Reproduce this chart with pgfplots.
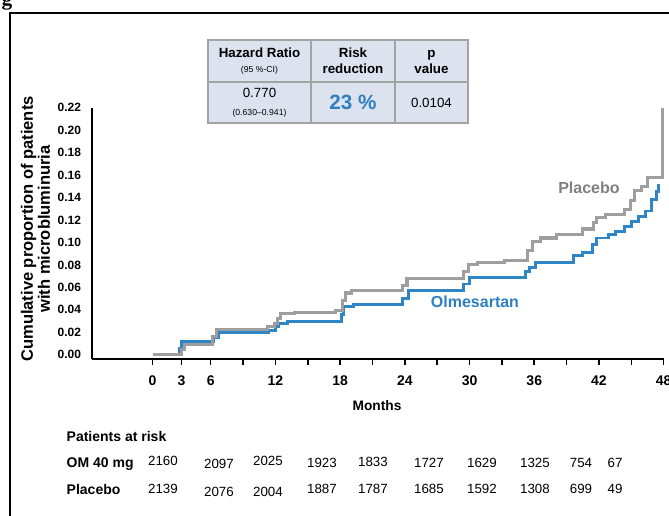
\documentclass[border=0pt]{standalone}
\usepackage{pgfplots}
\pgfplotsset{compat=1.18}
\usepackage{fontspec}
\setmainfont{Liberation Sans}
\newfontfamily\serifb{Liberation Serif}
\definecolor{pgray}{HTML}{9E9E9E}
\definecolor{oblue}{HTML}{2F86C6}
\definecolor{tfill}{HTML}{DCE2EE}
\definecolor{tborder}{HTML}{A3A3A3}
\definecolor{lgray}{HTML}{808080}
\definecolor{lblue}{HTML}{2E7FC0}

\pgfplotstableread{
x y
0.62 0
3.3 0.005
3.55 0.0095
6.15 0.016
6.5 0.0225
11.3 0.025
11.9 0.028
12.2 0.032
12.5 0.0365
13.8 0.0375
17.6 0.039
18.2 0.048
18.5 0.055
19.1 0.057
23.8 0.062
24.2 0.068
29.4 0.074
29.9 0.0805
30.7 0.082
33.2 0.084
35.4 0.093
35.8 0.101
36.6 0.104
38.1 0.107
40.5 0.112
41.5 0.118
41.8 0.122
42.6 0.125
44.4 0.1295
44.9 0.137
45.3 0.146
45.9 0.150
46.5 0.158
47.85 0.220
}\placebo

\pgfplotstableread{
x y
0.62 0
3.1 0.006
3.3 0.0118
6.3 0.015
6.7 0.0195
11.4 0.022
12.0 0.025
12.3 0.028
13.1 0.030
18.1 0.036
18.3 0.043
19.2 0.045
23.8 0.050
24.3 0.057
29.4 0.063
30.0 0.0685
35.2 0.074
35.6 0.078
36.1 0.082
39.6 0.088
40.5 0.091
41.4 0.098
41.8 0.104
42.9 0.107
43.5 0.110
44.4 0.1146
45.0 0.119
45.7 0.1235
46.3 0.128
46.9 0.138
47.3 0.145
47.5 0.152
}\olmesartan

\begin{document}
\begin{tikzpicture}[x=0.75pt,y=0.75pt]
\useasboundingbox (0,0) rectangle (669,516);
% frame
\draw[line width=2pt] (10,-20) -- (10,503) -- (700,503);
\node[font=\serifb\bfseries\fontsize{16}{16}\selectfont, anchor=base] at (7,510) {g};

\begin{axis}[
  at={(85,140)}, anchor=south west,
  scale only axis, width=429pt, height=188.3pt,
  xmin=-5.03, xmax=48, ymin=-0.0036, ymax=0.22,
  axis x line*=bottom, axis y line*=left,
  axis line style={line width=1.5pt, -},
  clip=false,
  xtick={0.62,3.3,6,9,12,15,18,21,24,27,30,33,36,39,42,45,48},
  xticklabels={0,3,6,,12,,18,,24,,30,,36,,42,,48},
  tick align=outside,
  x tick style={black, line width=1.2pt},
  major tick length=4.5pt,
  ytick={0,0.02,0.04,0.06,0.08,0.10,0.12,0.14,0.16,0.18,0.20,0.22},
  y tick style={draw=none},
  /pgf/number format/assume math mode=true,
  yticklabel style={font=\fontsize{9}{10}\selectfont\bfseries,
     /pgf/number format/.cd, fixed, fixed zerofill, precision=2},
  xticklabel style={font=\fontsize{10.5}{12}\selectfont\bfseries, yshift=-4.5pt},
]
\addplot[const plot, oblue, line width=2.2pt] table[x=x,y=y] {\olmesartan};
\addplot[const plot, pgray, line width=2.3pt] table[x=x,y=y] {\placebo};
\end{axis}

% y label
\node[rotate=90, align=center, font=\fontsize{12.4}{12.8}\selectfont\bfseries] at (35.5,287) {Cumulative proportion of patients\\with microbluminuria};
% x label
\node[font=\fontsize{10.3}{12}\selectfont\bfseries] at (377,110) {Months};

% curve labels
\node[font=\fontsize{12}{14}\selectfont\bfseries, text=lgray] at (589,328) {Placebo};
\node[font=\fontsize{12}{14}\selectfont\bfseries, text=lblue] at (475,214) {Olmesartan};

% table
\fill[tfill] (208,476) rectangle (468,393);
\draw[tborder, line width=0.9pt] (208,476) rectangle (468,393);
\draw[tborder, line width=0.9pt] (208,434) -- (468,434);
\draw[tborder, line width=0.9pt] (311,476) -- (311,393);
\draw[tborder, line width=0.9pt] (395,476) -- (395,393);
\node[anchor=base, font=\fontsize{10}{12}\selectfont\bfseries] at (259.5,458) {Hazard Ratio};
\node[anchor=base, font=\fontsize{6.5}{8}\selectfont] at (259.5,443) {(95 \%-CI)};
\node[anchor=base, font=\fontsize{10}{12}\selectfont\bfseries] at (353,458) {Risk};
\node[anchor=base, font=\fontsize{10}{12}\selectfont\bfseries] at (353,442) {reduction};
\node[anchor=base, font=\fontsize{10}{12}\selectfont\bfseries] at (431.5,458) {p};
\node[anchor=base, font=\fontsize{10}{12}\selectfont\bfseries] at (431.5,442) {value};
\node[anchor=base, font=\fontsize{10}{12}\selectfont] at (259.5,418) {0.770};
\node[anchor=base, font=\fontsize{6.5}{8}\selectfont] at (259.5,400) {(0.630–0.941)};
\node[anchor=base, font=\fontsize{15.5}{18}\selectfont\bfseries, text=lblue] at (353,406.5) {23 \%};
\node[anchor=base, font=\fontsize{10}{12}\selectfont] at (431.5,408) {0.0104};

% patients at risk
\node[anchor=base west, font=\fontsize{10.5}{12}\selectfont\bfseries] at (62,74.5) {Patients at risk};
\node[anchor=base west, font=\fontsize{10.5}{12}\selectfont\bfseries] at (62,48) {OM 40 mg};
\node[anchor=base west, font=\fontsize{10.5}{12}\selectfont\bfseries] at (62,21) {Placebo};
\foreach \xx/\yy/\tt in {163/50/2160, 219/47.5/2097, 268/50/2025, 322/48/1923, 373/49/1833, 429/48/1727, 482/48/1629, 535/48.5/1325, 581/48.5/754, 615/48.5/67}
  \node[anchor=base, font=\fontsize{10}{12}\selectfont] at (\xx,\yy) {\tt};
\foreach \xx/\yy/\tt in {163/22/2139, 219/19.5/2076, 268/19.5/2004, 322/22/1887, 373/22/1787, 429/22/1685, 482/22/1592, 535/22/1308, 581/22/699, 615/22/49}
  \node[anchor=base, font=\fontsize{10}{12}\selectfont] at (\xx,\yy) {\tt};
\end{tikzpicture}
\end{document}
